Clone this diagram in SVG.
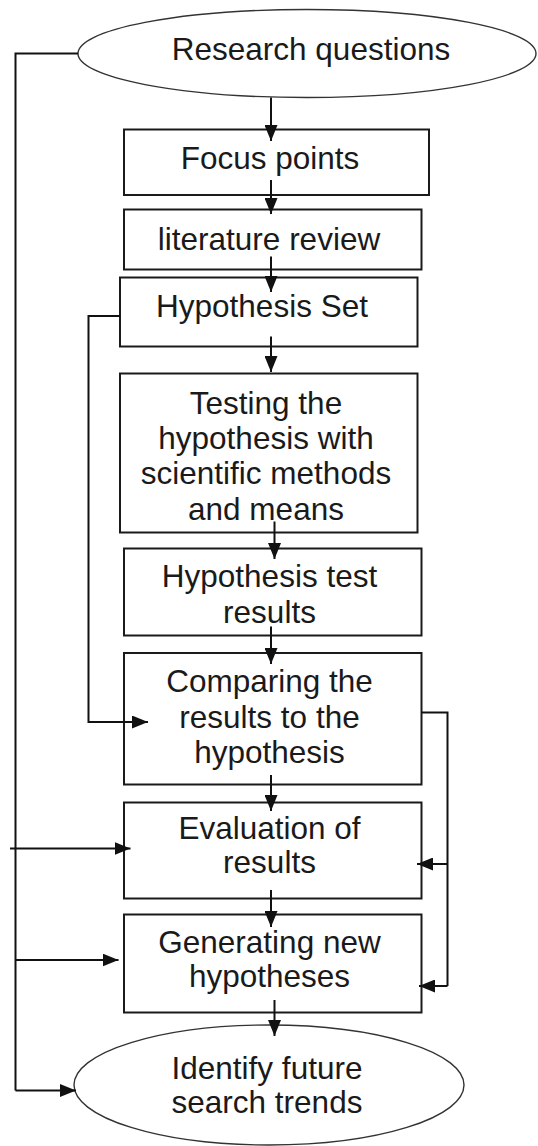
<svg xmlns="http://www.w3.org/2000/svg" width="538" height="1146" viewBox="0 0 538 1146">
<style>
.box{fill:#fff;stroke:#1a1a1a;stroke-width:2}
.ell{fill:#fff;stroke:#333;stroke-width:1.4}
.t{font-family:"Liberation Sans",Arial,sans-serif;font-size:31.5px;fill:#1a1a1a;text-anchor:middle}
.c{fill:none;stroke:#111;stroke-width:2}
.a{marker-end:url(#ah)}
</style>
<defs>
<marker id="ah" markerUnits="userSpaceOnUse" markerWidth="16" markerHeight="13" refX="16" refY="6.5" orient="auto">
<path d="M0,0 L16,6.5 L0,13 Z" fill="#111"/>
</marker>
</defs>
<rect width="538" height="1146" fill="#fff"/>
<g id="research-questions">
<ellipse class="ell" cx="307" cy="53.5" rx="229" ry="44"/>
<text class="t" x="311" y="59.5">Research questions</text>
</g>
<g id="focus-points">
<rect class="box" x="124" y="129.5" width="305" height="65.5"/>
<text class="t" x="270" y="168.5">Focus points</text>
</g>
<g id="literature-review">
<rect class="box" x="124" y="209.5" width="297.5" height="60"/>
<text class="t" x="269" y="249.5">literature review</text>
</g>
<g id="hypothesis-set">
<rect class="box" x="120" y="277.5" width="297.5" height="69"/>
<text class="t" x="262" y="317">Hypothesis Set</text>
</g>
<g id="testing">
<rect class="box" x="120" y="373.5" width="297.5" height="159"/>
<text class="t" x="266" y="413.5">Testing the</text>
<text class="t" x="266" y="449">hypothesis with</text>
<text class="t" x="266" y="484">scientific methods</text>
<text class="t" x="266" y="520">and means</text>
</g>
<g id="hypothesis-test-results">
<rect class="box" x="124" y="548.5" width="297.5" height="87"/>
<text class="t" x="269.5" y="586.5">Hypothesis test</text>
<text class="t" x="269.5" y="623">results</text>
</g>
<g id="comparing">
<rect class="box" x="124" y="653" width="297.5" height="131.5"/>
<text class="t" x="269.5" y="691.5">Comparing the</text>
<text class="t" x="269.5" y="728">results to the</text>
<text class="t" x="269.5" y="763">hypothesis</text>
</g>
<g id="evaluation">
<rect class="box" x="124" y="802.5" width="297.5" height="96"/>
<text class="t" x="269.5" y="839">Evaluation of</text>
<text class="t" x="269.5" y="873">results</text>
</g>
<g id="generating">
<rect class="box" x="124" y="914.5" width="297.5" height="98"/>
<text class="t" x="269.5" y="952.5">Generating new</text>
<text class="t" x="269.5" y="987">hypotheses</text>
</g>
<g id="identify">
<ellipse class="ell" cx="269" cy="1085" rx="195" ry="60"/>
<text class="t" x="267" y="1078.5">Identify future</text>
<text class="t" x="267" y="1112.5">search trends</text>
</g>
<g id="connectors">
<path class="c a" d="M271,97.5 V141"/>
<path class="c a" d="M271,180 V214"/>
<path class="c a" d="M271,256.5 V292"/>
<path class="c a" d="M271,336.5 V372"/>
<path class="c a" d="M274.5,521.5 V559"/>
<path class="c a" d="M271,626.5 V664"/>
<path class="c a" d="M271,775 V811"/>
<path class="c a" d="M271,890 V927"/>
<path class="c a" d="M274.5,1000 V1036"/>
<path class="c" d="M78,53.5 H15.5 V1090.5"/>
<path class="c a" d="M15.5,1090.5 H76"/>
<path class="c a" d="M15.5,960 H118.5"/>
<path class="c a" d="M10,848.5 H130.5"/>
<path class="c a" d="M120,316 H88.5 V722 H148"/>
<path class="c" d="M421.5,712.5 H447.5 V986"/>
<path class="c a" d="M447.5,986 H419"/>
<path class="c a" d="M447.5,864 H417"/>
</g>
</svg>
